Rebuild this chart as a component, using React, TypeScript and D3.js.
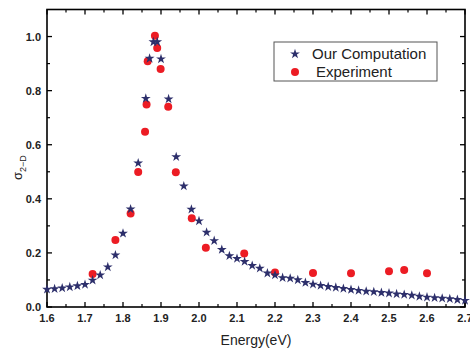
import React from "react";
import * as d3 from "d3";

// computed curve (stars)
const compEnergy = [
  1.6, 1.62, 1.64, 1.66, 1.68, 1.7, 1.72, 1.74, 1.76, 1.78, 1.8, 1.82, 1.84,
  1.86, 1.87, 1.88, 1.89, 1.9, 1.92, 1.94, 1.96, 1.98, 2.0, 2.02, 2.04, 2.06,
  2.08, 2.1, 2.12, 2.14, 2.16, 2.18, 2.2, 2.22, 2.24, 2.26, 2.28, 2.3, 2.32,
  2.34, 2.36, 2.38, 2.4, 2.42, 2.44, 2.46, 2.48, 2.5, 2.52, 2.54, 2.56, 2.58,
  2.6, 2.62, 2.64, 2.66, 2.68, 2.7,
];
const compSigma = [
  0.065, 0.067, 0.07, 0.074, 0.078, 0.083, 0.099, 0.118, 0.148, 0.192, 0.272,
  0.362, 0.532, 0.771, 0.919, 0.98, 0.98, 0.917, 0.769, 0.555, 0.447, 0.361,
  0.318, 0.276, 0.245, 0.212, 0.189, 0.179, 0.168, 0.153, 0.143, 0.125, 0.118,
  0.108, 0.106, 0.1, 0.09, 0.084, 0.079, 0.075, 0.072, 0.068, 0.064, 0.061,
  0.058, 0.056, 0.053, 0.051, 0.048, 0.046, 0.043, 0.039, 0.036, 0.034, 0.032,
  0.03, 0.027, 0.024,
];

// experiment (circles)
const expEnergy = [
  1.72, 1.78, 1.82, 1.84, 1.858, 1.862, 1.865, 1.884, 1.89, 1.899, 1.919,
  1.939, 1.981, 2.018, 2.119, 2.2, 2.3, 2.4, 2.5, 2.54, 2.6,
];
const expSigma = [
  0.122, 0.248, 0.346, 0.499, 0.648, 0.749, 0.909, 1.003, 0.958, 0.88, 0.74,
  0.498, 0.328, 0.219, 0.198, 0.128, 0.126, 0.125, 0.132, 0.137, 0.125,
];

const xTicks = [1.6, 1.7, 1.8, 1.9, 2.0, 2.1, 2.2, 2.3, 2.4, 2.5, 2.6, 2.7];
const yTicks = [0.0, 0.2, 0.4, 0.6, 0.8, 1.0];

const W = 470;
const H = 354;
const left = 47;
const right = 465;
const top = 9.5;
const bottom = 307;

const navy = "#2d2f6b";
const red = "#ec1c24";
const font = "Arial, 'Liberation Sans', sans-serif";

export default function App() {
  const x = d3.scaleLinear().domain([1.6, 2.7]).range([left, right]);
  const y = d3.scaleLinear().domain([0, 1.1]).range([bottom, top]);

  const star = d3.symbol().type(d3.symbolStar).size(30)() as string;

  const xMinor = d3.range(1.65, 2.7, 0.1);
  const yMinor = d3.range(0.1, 1.1, 0.2);

  return (
    <svg
      width={W}
      height={H}
      style={{ position: "absolute", left: 0, top: 0, background: "#fff" }}
    >
      {/* ticks */}
      {xTicks.map((t) => (
        <g key={"x" + t}>
          <line x1={x(t)} x2={x(t)} y1={bottom} y2={bottom - 5} stroke="#000" strokeWidth={1.3} />
          <line x1={x(t)} x2={x(t)} y1={top} y2={top + 5} stroke="#000" strokeWidth={1.3} />
          <text
            x={x(t)}
            y={bottom + 15}
            textAnchor="middle"
            fontFamily={font}
            fontSize={11}
            fontWeight="bold"
            fill="#222"
          >
            {t.toFixed(1)}
          </text>
        </g>
      ))}
      {xMinor.map((t) => (
        <g key={"xm" + t}>
          <line x1={x(t)} x2={x(t)} y1={bottom} y2={bottom - 3} stroke="#000" strokeWidth={1.2} />
          <line x1={x(t)} x2={x(t)} y1={top} y2={top + 3} stroke="#000" strokeWidth={1.2} />
        </g>
      ))}
      {yTicks.map((t) => (
        <g key={"y" + t}>
          <line x1={left} x2={left + 5} y1={y(t)} y2={y(t)} stroke="#000" strokeWidth={1.3} />
          <line x1={right} x2={right - 5} y1={y(t)} y2={y(t)} stroke="#000" strokeWidth={1.3} />
          <text
            x={left - 6}
            y={y(t) + 4}
            textAnchor="end"
            fontFamily={font}
            fontSize={11}
            fontWeight="bold"
            fill="#222"
          >
            {t.toFixed(1)}
          </text>
        </g>
      ))}
      {yMinor.map((t) => (
        <g key={"ym" + t}>
          <line x1={left} x2={left + 3} y1={y(t)} y2={y(t)} stroke="#000" strokeWidth={1.2} />
          <line x1={right} x2={right - 3} y1={y(t)} y2={y(t)} stroke="#000" strokeWidth={1.2} />
        </g>
      ))}

      {/* frame */}
      <rect
        x={left}
        y={top}
        width={right - left}
        height={bottom - top}
        fill="none"
        stroke="#000"
        strokeWidth={1.6}
      />

      {/* experiment */}
      {expEnergy.map((e, i) => (
        <circle key={"c" + i} cx={x(e)} cy={y(expSigma[i])} r={4} fill={red} />
      ))}

      {/* computation */}
      {compEnergy.map((e, i) => (
        <path
          key={"s" + i}
          d={star}
          transform={`translate(${x(e)},${y(compSigma[i])})`}
          fill={navy}
        />
      ))}

      {/* axis titles */}
      <text
        x={256}
        y={345}
        textAnchor="middle"
        fontFamily={font}
        fontSize={14}
        fill="#222"
      >
        Energy(eV)
      </text>
      <text
        transform="translate(22,180) rotate(-90)"
        fontFamily={font}
        fontSize={13}
        fill="#222"
      >
        σ
        <tspan dy={4} fontSize={9}>
          2−D
        </tspan>
      </text>

      {/* legend */}
      <rect x={274} y={42} width={163} height={39} fill="#fff" stroke="#555" strokeWidth={1} />
      <path d={star} transform="translate(295,54)" fill={navy} />
      <text x={312} y={59} fontFamily={font} fontSize={15} fill="#222">
        Our Computation
      </text>
      <circle cx={295} cy={72} r={4} fill={red} />
      <text x={316} y={77} fontFamily={font} fontSize={15} fill="#222">
        Experiment
      </text>
    </svg>
  );
}
